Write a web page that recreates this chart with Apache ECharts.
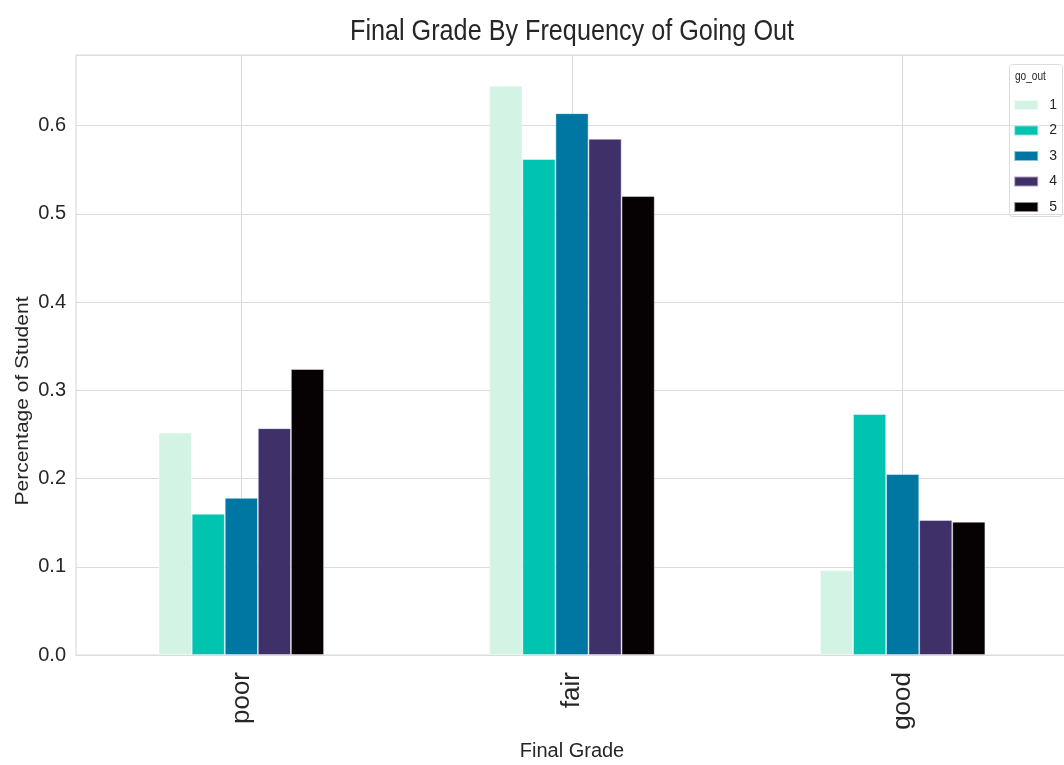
<!DOCTYPE html>
<html>
<head>
<meta charset="utf-8">
<script src="https://cdn.jsdelivr.net/npm/echarts@6/dist/echarts.min.js"></script>
<style>
html,body{margin:0;padding:0;background:#fff;}
#chart{width:1064px;height:765px;}
</style>
</head>
<body>
<div id="chart"></div>
<script>
const categories = ['poor', 'fair', 'good'];
const seriesNames = ['1', '2', '3', '4', '5'];
const go1 = [0.252, 0.645, 0.096];
const go2 = [0.160, 0.562, 0.273];
const go3 = [0.178, 0.614, 0.205];
const go4 = [0.257, 0.585, 0.153];
const go5 = [0.324, 0.520, 0.151];
const colors = ['#d3f3e4', '#00c3b0', '#0076a2', '#3f306a', '#060102'];
const yTicks = [0, 0.1, 0.2, 0.3, 0.4, 0.5, 0.6];
// half-band helper categories for vertical gridlines at category centres
const halfBands = ['a0', 'a1', 'a2', 'a3', 'a4', 'a5'];

const regular = "'Liberation Sans', Arial, sans-serif";

const values = [go1, go2, go3, go4, go5];
const series = values.map((v, i) => ({
  name: seriesNames[i],
  type: 'bar',
  data: v,
  barWidth: '10%',
  barGap: '0%',
  itemStyle: { color: colors[i], borderColor: 'rgba(255,255,255,0.55)', borderWidth: 0.8 },
  z: 3
}));

const chart = echarts.init(document.getElementById('chart'));
chart.setOption({
  animation: false,
  color: colors,
  grid: { left: 76, top: 55, width: 992, bottom: 110, show: true, borderColor: '#dcdcdc', borderWidth: 1.2,
          containLabel: false, outerBoundsMode: 'none' },
  legend: {
    data: seriesNames,
    orient: 'vertical',
    right: 2, top: 93,
    itemWidth: 24, itemHeight: 10, itemGap: 11.5,
    icon: 'rect',
    z: 10,
    textStyle: { fontFamily: regular, fontSize: 14, color: '#262626', padding: [0, 0, 0, 6] }
  },
  graphic: [
    { type: 'rect', left: 1009, top: 64, shape: { width: 53, height: 152, r: 3 },
      style: { fill: '#ffffff', stroke: '#dcdcdc', lineWidth: 1 }, z: 0, zlevel: 0 },
    { type: 'text', x: 1015, y: 71, scaleX: 0.84, style: { text: 'go_out', font: "12px " + regular, fill: '#262626' }, z: 6 },
    { type: 'text', x: 572, y: 32, scaleX: 0.84,
      style: { text: 'Final Grade By Frequency of Going Out', font: "30px " + regular, fill: '#262626', align: 'center', verticalAlign: 'middle' }, z: 6 },
    { type: 'text', x: 23, y: 401, rotation: Math.PI / 2, scaleY: 0.84,
      style: { text: 'Percentage of Student', font: "21px " + regular, fill: '#262626', align: 'center', verticalAlign: 'middle' }, z: 6 }
  ],
  xAxis: [{
    type: 'category',
    data: categories,
    name: 'Final Grade',
    nameLocation: 'middle',
    nameGap: 86,
    nameTextStyle: { fontFamily: regular, fontSize: 20, color: '#262626' },
    axisLine: { show: true, lineStyle: { color: '#dcdcdc', width: 1.2 } },
    axisTick: { show: false },
    axisLabel: { rotate: 90, margin: 17, fontFamily: regular, fontSize: 26, color: '#262626' },
    splitLine: { show: false }
  }, {
    type: 'category',
    data: halfBands,
    position: 'bottom',
    show: true,
    axisLine: { show: false },
    axisTick: { show: false },
    axisLabel: { show: false },
    splitLine: { show: true, interval: (i) => i % 2 === 1, lineStyle: { color: '#dcdcdc', width: 1.2 } }
  }],
  yAxis: {
    type: 'value',
    min: 0, max: 0.68, interval: 0.1,
    axisLine: { show: false },
    axisTick: { show: false },
    axisLabel: {
      fontFamily: regular, fontSize: 20, color: '#262626', margin: 10,
      formatter: v => yTicks.some(t => Math.abs(t - v) < 1e-6) ? v.toFixed(1) : ''
    },
    splitLine: { lineStyle: { color: '#dcdcdc', width: 1.2 } }
  },
  series: series
});
</script>
</body>
</html>
